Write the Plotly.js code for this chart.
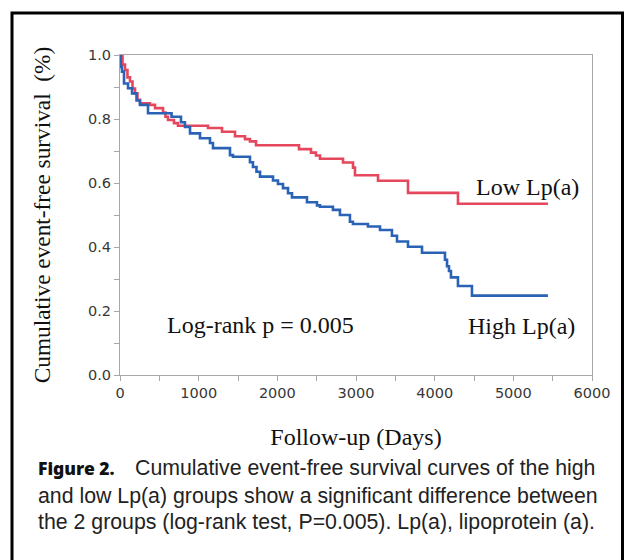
<!DOCTYPE html>
<html>
<head>
<meta charset="utf-8">
<script src="https://cdn.plot.ly/plotly-3.0.1.min.js"></script>
<style>
  html, body { margin: 0; padding: 0; background: #fff; }
  #chart { width: 626px; height: 560px; }
</style>
</head>
<body>
<div id="chart"></div>
<script>
// ---- Data ----
// High Lp(a) group: follow-up days and cumulative event-free survival (step curve)
const highDays = [0, 9, 25, 51, 102, 153, 210, 254, 356, 655, 775, 826, 890, 1017, 1144, 1182, 1398, 1436,
  1652, 1690, 1735, 1780, 1945, 2008, 2072, 2136, 2186, 2377, 2504, 2542, 2707, 2796, 2923, 2961,
  3152, 3305, 3457, 3521, 3661, 3839, 4131, 4157, 4182, 4207, 4296, 4474, 5440];
const highSurv = [1.0, 0.963, 0.948, 0.911, 0.896, 0.880, 0.858, 0.844, 0.818, 0.807, 0.790, 0.775, 0.755, 0.740, 0.725, 0.709, 0.687, 0.682,
  0.665, 0.650, 0.635, 0.620, 0.608, 0.597, 0.584, 0.568, 0.555, 0.540, 0.530, 0.526, 0.516, 0.500, 0.479, 0.472,
  0.464, 0.453, 0.435, 0.417, 0.401, 0.382, 0.360, 0.340, 0.325, 0.305, 0.278, 0.248, 0.248];

// Low Lp(a) group
const lowDays = [0, 32, 64, 95, 127, 159, 191, 222, 254, 381, 445, 547, 578, 610, 686, 737, 1119, 1297, 1462,
  1589, 1652, 1729, 2275, 2428, 2491, 2542, 2835, 2962, 2987, 3280, 3661, 4296, 5440];
const lowSurv = [1.0, 0.970, 0.953, 0.930, 0.917, 0.895, 0.880, 0.860, 0.849, 0.844, 0.834, 0.820, 0.807, 0.797, 0.787, 0.779, 0.772, 0.760, 0.746,
  0.737, 0.730, 0.718, 0.706, 0.695, 0.686, 0.676, 0.664, 0.648, 0.624, 0.607, 0.569, 0.535, 0.535];

// Axis ticks
const xTickVals = [0, 1000, 2000, 3000, 4000, 5000, 6000];
const xTickText = ["0", "1000", "2000", "3000", "4000", "5000", "6000"];
const yTickVals = [0.0, 0.2, 0.4, 0.6, 0.8, 1.0];
const yTickText = ["0.0", "0.2", "0.4", "0.6", "0.8", "1.0"];

// Texts
const xTitle = "Follow-up (Days)";
const yTitle = "Cumulative event-free survival\u00a0 (%)";
const lowLabel = "Low Lp(a)";
const highLabel = "High Lp(a)";
const pLabel = "Log-rank p = 0.005";
const figLabel = "Figure 2.";
const captionLines = [
  "Cumulative event-free survival curves of the high",
  "and low Lp(a) groups show a significant difference between",
  "the 2 groups (log-rank test, P=0.005). Lp(a), lipoprotein (a)."
];

// ---- Figure ----
const SERIF = "Liberation Serif, Times New Roman, serif";
const SANS = "Liberation Sans, Arial, Helvetica, sans-serif";
const AXISGRAY = "#a8a8a8";

const traces = [
  { x: lowDays, y: lowSurv, type: "scatter", mode: "lines", name: lowLabel,
    line: { shape: "hv", color: "#e5475c", width: 2.6 } },
  { x: highDays, y: highSurv, type: "scatter", mode: "lines", name: highLabel,
    line: { shape: "hv", color: "#2a63b5", width: 2.6 } }
];

const axisCommon = {
  showgrid: false, zeroline: false, showline: true, linecolor: AXISGRAY, linewidth: 1,
  mirror: true, ticks: "outside", ticklen: 5, tickcolor: AXISGRAY, tickwidth: 1,
  tickfont: { family: "DejaVu Sans, Verdana, sans-serif", size: 14.5, color: "#383838" }
};

const capFont = { family: SANS, size: 21.3, color: "#222" };

const layout = {
  width: 626, height: 560,
  margin: { l: 120, r: 34, t: 55, b: 185 },
  paper_bgcolor: "#fff", plot_bgcolor: "#fff",
  showlegend: false,
  xaxis: Object.assign({}, axisCommon, {
    range: [0, 6000], tickmode: "array", tickvals: xTickVals, ticktext: xTickText,
    minor: { ticks: "outside", dtick: 500, tick0: 0, ticklen: 5, tickcolor: AXISGRAY },
    title: { text: xTitle, font: { family: SERIF, size: 24, color: "#111" }, standoff: 27 }
  }),
  yaxis: Object.assign({}, axisCommon, {
    range: [0, 1], tickmode: "array", tickvals: yTickVals, ticktext: yTickText,
    minor: { ticks: "outside", dtick: 0.1, tick0: 0, ticklen: 5, tickcolor: AXISGRAY },
    title: { text: yTitle, font: { family: SERIF, size: 23.3, color: "#111" }, standoff: 30 }
  }),
  annotations: [
    { text: lowLabel, xref: "x", yref: "y", x: 5186, y: 0.5875, showarrow: false,
      font: { family: SERIF, size: 24, color: "#111" }, xanchor: "center", yanchor: "middle" },
    { text: highLabel, xref: "x", yref: "y", x: 5110, y: 0.153, showarrow: false,
      font: { family: SERIF, size: 24, color: "#111" }, xanchor: "center", yanchor: "middle" },
    { text: pLabel, xref: "x", yref: "y", x: 1792, y: 0.156, showarrow: false,
      font: { family: SERIF, size: 24, color: "#111" }, xanchor: "center", yanchor: "middle" },
    { text: figLabel,
      xref: "paper", yref: "paper", x: -0.178, y: -0.2906,
      showarrow: false, xanchor: "left", yanchor: "middle",
      font: { family: "Noto Sans, DejaVu Sans, sans-serif", size: 17.5, color: "#111", weight: 900 } },
    { text: captionLines[0], xref: "paper", yref: "paper", x: 0.0275, y: -0.2906,
      showarrow: false, xanchor: "left", yanchor: "middle", font: capFont },
    { text: captionLines[1], xref: "paper", yref: "paper", x: -0.178, y: -0.378,
      showarrow: false, xanchor: "left", yanchor: "middle", font: capFont },
    { text: captionLines[2], xref: "paper", yref: "paper", x: -0.178, y: -0.459,
      showarrow: false, xanchor: "left", yanchor: "middle", font: capFont }
  ],
  shapes: [
    { type: "rect", xref: "paper", yref: "paper", x0: -0.2288, x1: 1.0646, y0: -0.72, y1: 1.131,
      line: { color: "#000", width: 3 }, fillcolor: "rgba(0,0,0,0)", layer: "above" }
  ]
};

Plotly.newPlot("chart", traces, layout, { displayModeBar: false, staticPlot: true });
</script>
</body>
</html>
